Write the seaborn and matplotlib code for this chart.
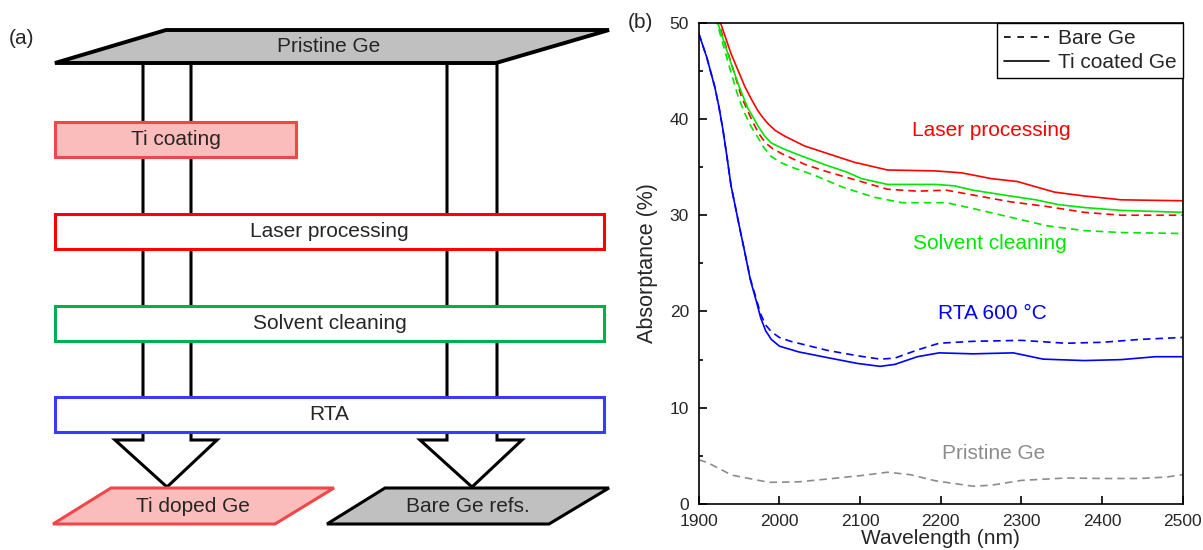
import numpy as np
import matplotlib.pyplot as plt
from matplotlib.patches import Polygon
from matplotlib.lines import Line2D
from matplotlib.ticker import MultipleLocator
import seaborn as sns
import pandas as pd

# --- curve data (wavelength in nm, absorptance in %) ---
laser_ti_wl = [1920, 1927, 1940, 1957, 1965, 1973, 1979, 1986, 1995, 2007, 2031, 2060, 2093,
               2134, 2194, 2226, 2263, 2295, 2341, 2378, 2424, 2500]
laser_ti_val = [51.6, 50.0, 46.8, 43.4, 42.1, 40.9, 40.2, 39.5, 38.8, 38.2, 37.2, 36.4, 35.5,
                34.7, 34.6, 34.4, 33.8, 33.5, 32.4, 32.0, 31.6, 31.5]

laser_bare_wl = [1918, 1925, 1940, 1953, 1962, 1970, 1976, 1983, 1992, 2003, 2031, 2056, 2097,
                 2134, 2171, 2207, 2240, 2286, 2332, 2378, 2424, 2500]
laser_bare_val = [51.8, 49.9, 45.9, 42.3, 40.6, 39.2, 38.3, 37.5, 36.9, 36.4, 35.3, 34.6, 33.6,
                  32.7, 32.5, 32.6, 32.1, 31.4, 30.9, 30.3, 30.0, 30.0]

solvent_ti_wl = [1917, 1924, 1940, 1950, 1961, 1968, 1974, 1982, 1990, 2005, 2023, 2058, 2083,
                 2102, 2134, 2194, 2217, 2240, 2286, 2318, 2346, 2378, 2424, 2500]
solvent_ti_val = [51.8, 49.9, 45.8, 43.4, 41.1, 40.1, 39.2, 38.2, 37.5, 36.9, 36.3, 35.2, 34.5,
                  33.8, 33.2, 33.2, 33.05, 32.6, 32.0, 31.6, 31.1, 30.8, 30.5, 30.3]

solvent_bare_wl = [1916, 1923, 1936, 1949, 1957, 1965, 1974, 1981, 1990, 2001, 2015, 2042,
                   2079, 2116, 2152, 2207, 2240, 2286, 2332, 2378, 2424, 2500]
solvent_bare_val = [51.8, 49.9, 46.0, 42.3, 40.6, 39.2, 38.0, 37.0, 36.1, 35.5, 35.0, 34.2,
                    32.9, 31.9, 31.3, 31.3, 30.7, 29.8, 28.9, 28.4, 28.2, 28.1]

rta_ti_wl = [1900, 1910, 1920, 1925, 1930, 1935, 1940, 1950, 1957, 1964, 1971, 1977, 1983,
             1990, 2000, 2024, 2060, 2097, 2125, 2143, 2171, 2198, 2240, 2290, 2327, 2378,
             2424, 2466, 2500]
rta_ti_val = [48.9, 46.4, 43.3, 41.3, 38.9, 36.1, 33.1, 29.0, 26.2, 23.3, 21.2, 19.3, 18.0,
              17.1, 16.4, 15.8, 15.2, 14.6, 14.3, 14.5, 15.3, 15.7, 15.6, 15.7, 15.05, 14.9,
              15.0, 15.3, 15.3]

rta_bare_wl = [1900, 1910, 1920, 1925, 1930, 1935, 1940, 1950, 1957, 1964, 1971, 1977, 1983,
               1990, 2000, 2014, 2060, 2097, 2125, 2143, 2171, 2198, 2240, 2300, 2355, 2401,
               2447, 2500]
rta_bare_val = [48.9, 46.4, 43.3, 41.3, 38.9, 36.1, 33.1, 29.0, 26.2, 23.4, 21.4, 19.7, 18.6,
                17.9, 17.3, 16.9, 15.95, 15.4, 15.05, 15.15, 16.0, 16.7, 16.9, 17.0, 16.7,
                16.8, 17.1, 17.3]

pristine_wl = [1900, 1911, 1941, 1987, 2024, 2060, 2101, 2134, 2162, 2194, 2240, 2263,
               2300, 2355, 2401, 2447, 2480, 2500]
pristine_val = [4.6, 4.3, 3.0, 2.25, 2.3, 2.6, 2.95, 3.3, 3.05, 2.4, 1.85, 1.95,
                2.45, 2.7, 2.65, 2.65, 2.8, 3.05]

samples = ['Laser processing', 'Solvent cleaning', 'RTA 600 °C', 'Pristine Ge']
sample_colors = ['#ff0000', '#00e600', '#0000ff', '#8c8c8c']
label_pos = [(2263, 38.8), (2261, 27.1), (2264, 19.8), (2266, 5.2)]

# flow chart (panel a)
steps = ['Ti coating', 'Laser processing', 'Solvent cleaning', 'RTA']
step_edge = ['#f04848', '#ff0000', '#00b050', '#3a3aff']
step_fill = ['#fbbcbc', 'white', 'white', 'white']

curves = [
    ('Laser processing', 'Ti coated Ge', laser_ti_wl, laser_ti_val),
    ('Laser processing', 'Bare Ge', laser_bare_wl, laser_bare_val),
    ('Solvent cleaning', 'Ti coated Ge', solvent_ti_wl, solvent_ti_val),
    ('Solvent cleaning', 'Bare Ge', solvent_bare_wl, solvent_bare_val),
    ('RTA 600 °C', 'Ti coated Ge', rta_ti_wl, rta_ti_val),
    ('RTA 600 °C', 'Bare Ge', rta_bare_wl, rta_bare_val),
    ('Pristine Ge', 'Bare Ge', pristine_wl, pristine_val),
]
df = pd.concat([pd.DataFrame({'Wavelength': w, 'Absorptance': v, 'sample': s, 'coating': c})
                for s, c, w, v in curves], ignore_index=True)

sns.set_style('white')
plt.rcParams['font.family'] = ['Liberation Sans', 'DejaVu Sans']

fig = plt.figure(figsize=(12.03, 5.5), dpi=100)

# ---------------- panel (a): process flow ----------------
ax_a = fig.add_axes([0, 0, 620 / 1203, 1])
ax_a.set_xlim(0, 620)
ax_a.set_ylim(550, 0)
ax_a.axis('off')

lw_box = 2.2
# two hollow arrows running from the wafer down to the outputs
for cx, half in [(167, 24), (472, 25)]:
    xl, xr = cx - half, cx + half
    arrow = [(xl, 63), (xl, 440), (cx - 52, 440), (cx, 487), (cx + 50, 440), (xr, 440), (xr, 63)]
    ax_a.add_patch(Polygon(arrow, closed=True, fc='white', ec='black', lw=lw_box, zorder=1,
                           joinstyle='miter'))

# top wafer
ax_a.add_patch(Polygon([(55, 63), (166, 30), (609, 30), (496, 63)], closed=True,
                       fc='#c0c0c0', ec='black', lw=2.8, zorder=3))
ax_a.text(329, 47, 'Pristine Ge', ha='center', va='center', fontsize=15, zorder=4)

step_top = [122, 214, 306, 397]
step_right = [296, 604, 604, 604]
for name, ec, fc, top, right in zip(steps, step_edge, step_fill, step_top, step_right):
    ax_a.add_patch(Polygon([(55, top), (right, top), (right, top + 35), (55, top + 35)],
                           closed=True, fc=fc, ec=ec, lw=lw_box, zorder=2))
    ax_a.text((55 + right) / 2, top + 17.5, name, ha='center', va='center', fontsize=15, zorder=4)

# outputs
ax_a.add_patch(Polygon([(53, 524), (111, 488), (334, 488), (275, 524)], closed=True,
                       fc='#fbbcbc', ec='#f04848', lw=lw_box, zorder=3))
ax_a.text(193, 507, 'Ti doped Ge', ha='center', va='center', fontsize=15, zorder=4)
ax_a.add_patch(Polygon([(327, 524), (385, 488), (609, 488), (549, 524)], closed=True,
                       fc='#c0c0c0', ec='black', lw=lw_box, zorder=3))
ax_a.text(468, 507, 'Bare Ge refs.', ha='center', va='center', fontsize=15, zorder=4)

fig.text(22 / 1203, 1 - 38 / 550, '(a)', ha='center', va='center', fontsize=15)

# ---------------- panel (b): absorptance spectra ----------------
ax = fig.add_axes([698.7 / 1203, 1 - 504 / 550, 484 / 1203, 481.3 / 550])
sns.lineplot(data=df, x='Wavelength', y='Absorptance', hue='sample', style='coating',
             palette=dict(zip(samples, sample_colors)),
             dashes={'Bare Ge': (4.5, 3), 'Ti coated Ge': ''},
             estimator=None, sort=True, linewidth=1.2, legend=False, ax=ax)

for name, col, (x, y) in zip(samples, sample_colors, label_pos):
    ax.text(x, y, name, color=col, ha='center', va='center', fontsize=15)

ax.set_xlim(1900, 2500)
ax.set_ylim(0, 50)
ax.xaxis.set_major_locator(MultipleLocator(100))
ax.yaxis.set_major_locator(MultipleLocator(10))
ax.yaxis.set_minor_locator(MultipleLocator(5))
ax.tick_params(which='both', direction='in', width=1.2, labelsize=12.5, color='black',
               bottom=True, left=True, top=False, right=False)
ax.tick_params(which='major', length=5.5, pad=7)
ax.tick_params(which='minor', length=3)
for sp in ax.spines.values():
    sp.set_linewidth(1.2)
    sp.set_color('black')
ax.set_xlabel('Wavelength (nm)', fontsize=15, labelpad=0)
ax.set_ylabel('Absorptance (%)', fontsize=15.5, labelpad=8)

handles = [Line2D([], [], color='black', lw=1.2, ls=(0, (4, 4))),
           Line2D([], [], color='black', lw=1.2)]
leg = ax.legend(handles, ['Bare Ge', 'Ti coated Ge'], loc='upper right', bbox_to_anchor=(1, 1),
                borderaxespad=0, fontsize=15, frameon=True, fancybox=False, framealpha=1,
                edgecolor='black', handlelength=2.2, handletextpad=0.4, borderpad=0.3,
                labelspacing=0.25)
leg.get_frame().set_linewidth(1.0)

fig.text(640 / 1203, 1 - 22 / 550, '(b)', ha='center', va='center', fontsize=15)

fig.savefig('out.png', dpi=100)
